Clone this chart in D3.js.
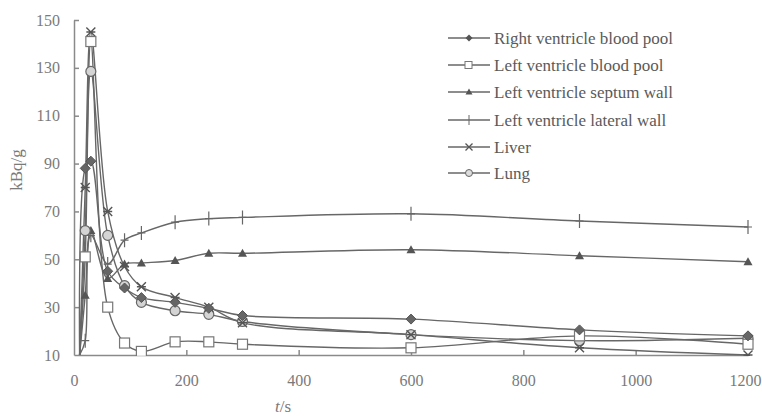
<!DOCTYPE html>
<html><head><meta charset="utf-8">
<script src="https://cdn.jsdelivr.net/npm/d3@7"></script>
<style>body{margin:0;background:#fff}svg{display:block}</style>
</head><body>
<svg id="c" width="762" height="419" font-family="'Liberation Serif', 'Times New Roman', 'DejaVu Serif', serif"></svg>
<script>
const times = [10, 20, 30, 60, 90, 120, 180, 240, 300, 600, 900, 1200];
const seriesNames = ["Right ventricle blood pool","Left ventricle blood pool","Left ventricle septum wall","Left ventricle lateral wall","Liver","Lung"];
const rvBloodPool   = [10, 88, 91, 45, 38, 34, 32, 29.5, 26.5, 25, 20.5, 18];
const lvBloodPool   = [10, 51, 141, 30, 15, 11.5, 15.5, 15.5, 14.5, 13, 18, 14.5];
const lvSeptumWall  = [10, 35, 62, 42, 48, 48.5, 49.5, 52.5, 52.5, 54, 51.5, 49];
const lvLateralWall = [10, 16, 60, 48, 58, 61, 65.5, 67, 67.5, 69, 66, 63.5];
const liver         = [10, 80, 145, 70, 47, 38.5, 34, 30, 23.5, 18.5, 13, 10];
const lung          = [10, 62, 128.5, 60, 39, 32, 28.5, 27, 24, 18.5, 16, 17];
const xTicks = [0, 200, 400, 600, 800, 1000, 1200];
const yTicks = [10, 30, 50, 70, 90, 110, 130, 150];

const allSeries = [rvBloodPool, lvBloodPool, lvSeptumWall, lvLateralWall, liver, lung];
const markers = ["diamond","square","triangle","plus","star","circle"];
const FONT = "'Liberation Serif', 'Times New Roman', 'DejaVu Serif', serif";

const svg = d3.select("#c");
const x = d3.scaleLinear().domain([0,1200]).range([74,748]);
const y = d3.scaleLinear().domain([10,150]).range([355,20]);
const axisCol = "#8a8a8a", lineCol = "#676767", textCol = "#7a7a7a";

svg.append("defs").append("clipPath").attr("id","clip")
  .append("rect").attr("x",74).attr("y",0).attr("width",690).attr("height",356);

// axes
const gx = svg.append("g").attr("transform","translate(0,355)")
  .call(d3.axisBottom(x).tickValues(xTicks).tickFormat(d3.format("d")).tickSizeInner(-5).tickSizeOuter(0).tickPadding(20));
const gy = svg.append("g").attr("transform","translate(74,0)")
  .call(d3.axisLeft(y).tickValues(yTicks).tickFormat(d3.format("d")).tickSizeInner(-5).tickSizeOuter(0).tickPadding(14));
[gx,gy].forEach(g=>{
  g.attr("font-family",FONT).attr("font-size",16);
  g.selectAll("path,line").attr("stroke",axisCol).attr("stroke-width",1.5);
  g.selectAll("text").attr("fill",textCol);
});
gx.selectAll(".tick line").filter(d=>d===0||d===1200).remove();
gx.selectAll(".tick text").filter(d=>d===1200).attr("dx",-3);
gy.selectAll(".tick line").filter(d=>d===10).remove();

// titles
svg.append("text").attr("transform","translate(22,170) rotate(-90)").attr("text-anchor","middle")
  .attr("fill",textCol).attr("font-size",17).attr("font-family",FONT).text("kBq/g");
const xt = svg.append("text").attr("x",283).attr("y",412).attr("text-anchor","middle")
  .attr("fill",textCol).attr("font-size",17).attr("font-family",FONT);
xt.append("tspan").attr("font-style","italic").text("t");
xt.append("tspan").text("/s");

// lines
const line = d3.line().x(d=>x(d[0])).y(d=>y(d[1])).curve(d3.curveCatmullRom.alpha(0.5));
const plot = svg.append("g").attr("clip-path","url(#clip)");
allSeries.forEach(vals=>{
  plot.append("path").datum(times.map((t,i)=>[t,vals[i]]))
    .attr("d",line).attr("fill","none").attr("stroke",lineCol).attr("stroke-width",1.4);
});

function drawMarker(g, type, cx, cy){
  if(type==="diamond"){
    g.append("path").attr("d",`M${cx},${cy-5}L${cx+5},${cy}L${cx},${cy+5}L${cx-5},${cy}Z`).attr("fill","#666").attr("stroke","#555");
  } else if(type==="square"){
    g.append("rect").attr("x",cx-5).attr("y",cy-5).attr("width",10).attr("height",10).attr("fill","#fff").attr("stroke","#777").attr("stroke-width",1.2);
  } else if(type==="triangle"){
    g.append("path").attr("d",`M${cx},${cy-4.5}L${cx+4.5},${cy+3.5}L${cx-4.5},${cy+3.5}Z`).attr("fill","#555");
  } else if(type==="plus"){
    g.append("path").attr("d",`M${cx},${cy-7}V${cy+7}M${cx-4},${cy}H${cx+4}`).attr("stroke","#666").attr("stroke-width",1.2);
  } else if(type==="star"){
    g.append("path").attr("d",`M${cx-4.5},${cy-4.5}L${cx+4.5},${cy+4.5}M${cx+4.5},${cy-4.5}L${cx-4.5},${cy+4.5}M${cx-4.5},${cy}H${cx+4.5}`).attr("stroke","#555").attr("stroke-width",1.4);
  } else if(type==="circle"){
    g.append("circle").attr("cx",cx).attr("cy",cy).attr("r",5).attr("fill","#d4d4d4").attr("stroke","#666").attr("stroke-width",1.2);
  }
}
const mg = plot.append("g");
[3,2,5,4,1,0].forEach(si=>{
  allSeries[si].forEach((v,i)=>{
    if(i===0) return;
    drawMarker(mg, markers[si], x(times[i]), y(v));
  });
});

// legend
const lg = svg.append("g").attr("font-family",FONT);
const rowY = [38,65,92,120,147,173];
seriesNames.forEach((n,i)=>{
  const yy = rowY[i];
  lg.append("line").attr("x1",448).attr("x2",490).attr("y1",yy).attr("y2",yy).attr("stroke",lineCol).attr("stroke-width",1.3);
  const type = markers[i];
  const g2 = lg.append("g");
  if(type==="diamond") g2.append("path").attr("d",`M469,${yy-3.5}L472.5,${yy}L469,${yy+3.5}L465.5,${yy}Z`).attr("fill","#555");
  else if(type==="square") g2.append("rect").attr("x",465).attr("y",yy-3.5).attr("width",7).attr("height",7).attr("fill","#fff").attr("stroke","#777");
  else if(type==="triangle") g2.append("path").attr("d",`M469,${yy-3.5}L472.5,${yy+2.5}L465.5,${yy+2.5}Z`).attr("fill","#555");
  else if(type==="plus") g2.append("path").attr("d",`M469,${yy-5}V${yy+5}`).attr("stroke","#666");
  else if(type==="star") g2.append("path").attr("d",`M465.5,${yy-3.5}L472.5,${yy+3.5}M472.5,${yy-3.5}L465.5,${yy+3.5}`).attr("stroke","#555").attr("stroke-width",1.3);
  else if(type==="circle") g2.append("circle").attr("cx",469).attr("cy",yy).attr("r",3.5).attr("fill","#ddd").attr("stroke","#666");
  lg.append("text").attr("x",494).attr("y",yy+5.5).attr("fill","#5a5a5a").attr("font-size",17).text(n);
});
</script>
</body></html>
